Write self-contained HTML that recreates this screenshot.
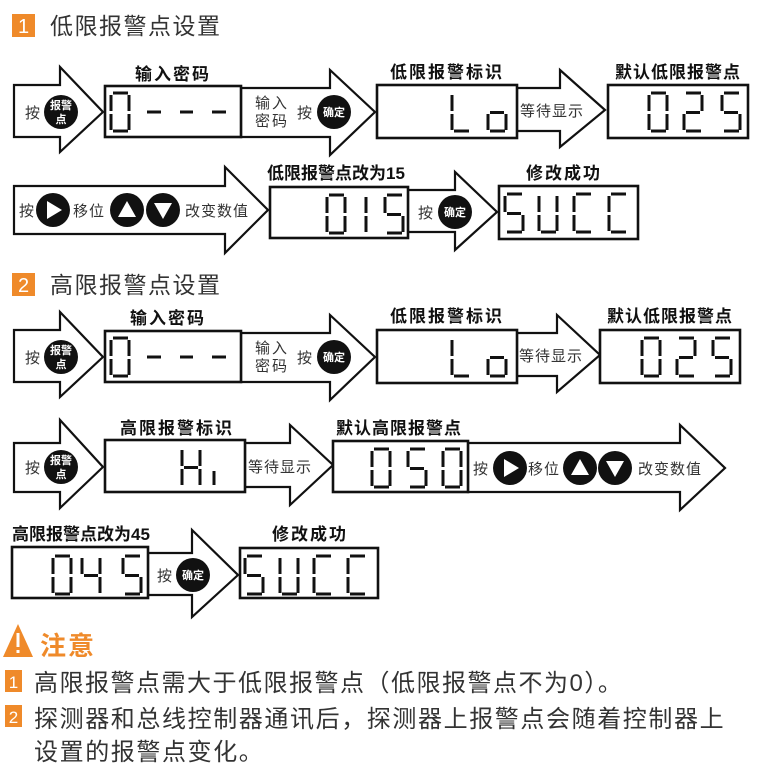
<!DOCTYPE html>
<html><head><meta charset="utf-8"><style>
html,body{margin:0;padding:0;background:#fff;}
svg{display:block;}
.f{font-family:"Liberation Sans","Noto Sans CJK SC",sans-serif;}
.lb{font-size:17px;font-weight:bold;fill:#111;}
.t{font-size:15px;fill:#333;}
.ar{fill:#fff;stroke:#111;stroke-width:2.2;stroke-linejoin:miter;}
.bx{fill:#fff;stroke:#111;stroke-width:2.6;}
.d{fill:none;stroke:#111;stroke-width:3;}
.w{fill:#fff;font-weight:bold;font-size:11px;}
</style></head><body>
<svg width="764" height="769" viewBox="0 0 764 769" class="f">
<!-- Section 1 -->
<rect x="12" y="14" width="23" height="23" fill="#ef8a2a"/>
<text x="23.5" y="33" font-size="20" fill="#fff" text-anchor="middle">1</text>
<text x="50" y="34" font-size="23" fill="#333" letter-spacing="1.5">低限报警点设置</text>

<!-- row1 -->
<path class="ar" d="M14 85H60V67L103 112L60 152V137H14Z"/>
<path class="ar" d="M241 88H330V70L375 112L330 155V137H241Z"/>
<path class="ar" d="M517 88H560V70L605 110L560 147V131H517Z"/>
<rect class="bx" x="105" y="86" width="136" height="51"/>
<rect class="bx" x="377" y="85" width="140" height="53"/>
<rect class="bx" x="608" y="85" width="140" height="53"/>
<text class="lb" x="173" y="80" text-anchor="middle" letter-spacing="2">输入密码</text>
<text class="lb" x="447" y="78" text-anchor="middle" letter-spacing="2">低限报警标识</text>
<text class="lb" x="678" y="78" text-anchor="middle" letter-spacing="1">默认低限报警点</text>
<text class="t" x="25" y="118">按</text>
<circle cx="61" cy="112" r="17" fill="#111"/>
<text class="w" x="61" y="109" text-anchor="middle">报警</text>
<text class="w" x="61" y="123" text-anchor="middle">点</text>
<text class="t" x="255" y="108" letter-spacing="2">输入</text>
<text class="t" x="255" y="126" letter-spacing="2">密码</text>
<text class="t" x="297" y="118">按</text>
<circle cx="334" cy="112" r="17" fill="#111"/>
<text class="w" x="334" y="116" text-anchor="middle">确定</text>
<text class="t" x="520" y="116" letter-spacing="1">等待显示</text>
<g class="d">
<g transform="translate(111,93)"><path d="M2 0H17M18 2V18M18 21V37M2 38H17M0 21V37M0 2V18"/></g>
<path d="M147 112H161M180 112H193M212 112H226"/>
<g transform="translate(452,93)"><path d="M0 2V18M0 21V37M2 38H17"/></g>
<g transform="translate(488,93)"><path d="M2 19.5H16M18 21V37M2 38H17M0 21V37"/></g>
<g transform="translate(649,93)"><path d="M2 0H17M18 2V18M18 21V37M2 38H17M0 21V37M0 2V18"/></g>
<g transform="translate(684,93)"><path d="M2 0H17M18 2V18M2 19.5H16M0 21V37M2 38H17"/></g>
<g transform="translate(722,93)"><path d="M2 0H17M0 2V18M2 19.5H16M18 21V37M2 38H17"/></g>
</g>

<!-- row2 -->
<path class="ar" d="M14 186H225V167L268 210L225 253V234H14Z"/>
<path class="ar" d="M408 190H455V172L497 212L455 250V232H408Z"/>
<rect class="bx" x="270" y="187" width="138" height="51"/>
<rect class="bx" x="499" y="186" width="139" height="53"/>
<text class="lb" x="267" y="179">低限报警点改为15</text>
<text class="lb" x="564" y="179" text-anchor="middle" letter-spacing="2">修改成功</text>
<text class="t" x="19" y="216">按</text>
<circle cx="53" cy="210" r="17" fill="#111"/>
<path d="M47 201L62 210L47 219Z" fill="#fff"/>
<text class="t" x="73" y="216" letter-spacing="1">移位</text>
<circle cx="127" cy="210" r="17" fill="#111"/>
<path d="M118 217L127 201L136 217Z" fill="#fff"/>
<circle cx="163" cy="210" r="17" fill="#111"/>
<path d="M154 203L163 219L172 203Z" fill="#fff"/>
<text class="t" x="185" y="216" letter-spacing="1">改变数值</text>
<text class="t" x="418" y="218">按</text>
<circle cx="455" cy="212" r="17" fill="#111"/>
<text class="w" x="455" y="216" text-anchor="middle">确定</text>
<g class="d">
<g transform="translate(327,195)"><path d="M2 0H17M18 2V18M18 21V37M2 38H17M0 21V37M0 2V18"/></g>
<g transform="translate(348,195)"><path d="M18 2V18M18 21V37"/></g>
<g transform="translate(385,195)"><path d="M2 0H17M0 2V18M2 19.5H16M18 21V37M2 38H17"/></g>
<g transform="translate(505,194)"><path d="M2 0H17M0 2V18M2 19.5H16M18 21V37M2 38H17"/></g>
<g transform="translate(539,194)"><path d="M0 2V18M0 21V37M2 38H17M18 21V37M18 2V18"/></g>
<g transform="translate(574,194)"><path d="M2 0H17M0 2V18M0 21V37M2 38H17"/></g>
<g transform="translate(609,194)"><path d="M2 0H17M0 2V18M0 21V37M2 38H17"/></g>
</g>

<!-- Section 2 -->
<rect x="12" y="273" width="23" height="23" fill="#ef8a2a"/>
<text x="23.5" y="292" font-size="20" fill="#fff" text-anchor="middle">2</text>
<text x="50" y="293" font-size="23" fill="#333" letter-spacing="1.5">高限报警点设置</text>

<!-- row3 -->
<path class="ar" d="M14 330H60V312L103 357L60 397V382H14Z"/>
<path class="ar" d="M241 333H330V315L375 357L330 400V382H241Z"/>
<path class="ar" d="M517 333H557V315L600 355L557 392V376H517Z"/>
<rect class="bx" x="105" y="331" width="136" height="51"/>
<rect class="bx" x="377" y="330" width="140" height="53"/>
<rect class="bx" x="600" y="330" width="140" height="53"/>
<text class="lb" x="168" y="324" text-anchor="middle" letter-spacing="2">输入密码</text>
<text class="lb" x="447" y="322" text-anchor="middle" letter-spacing="2">低限报警标识</text>
<text class="lb" x="670" y="322" text-anchor="middle" letter-spacing="1">默认低限报警点</text>
<text class="t" x="25" y="363">按</text>
<circle cx="61" cy="357" r="17" fill="#111"/>
<text class="w" x="61" y="354" text-anchor="middle">报警</text>
<text class="w" x="61" y="368" text-anchor="middle">点</text>
<text class="t" x="255" y="353" letter-spacing="2">输入</text>
<text class="t" x="255" y="371" letter-spacing="2">密码</text>
<text class="t" x="297" y="363">按</text>
<circle cx="334" cy="357" r="17" fill="#111"/>
<text class="w" x="334" y="361" text-anchor="middle">确定</text>
<text class="t" x="519" y="361" letter-spacing="1">等待显示</text>
<g class="d">
<g transform="translate(111,338)"><path d="M2 0H17M18 2V18M18 21V37M2 38H17M0 21V37M0 2V18"/></g>
<path d="M147 357H161M180 357H193M212 357H226"/>
<g transform="translate(452,338)"><path d="M0 2V18M0 21V37M2 38H17"/></g>
<g transform="translate(488,338)"><path d="M2 19.5H16M18 21V37M2 38H17M0 21V37"/></g>
<g transform="translate(642,338)"><path d="M2 0H17M18 2V18M18 21V37M2 38H17M0 21V37M0 2V18"/></g>
<g transform="translate(677,338)"><path d="M2 0H17M18 2V18M2 19.5H16M0 21V37M2 38H17"/></g>
<g transform="translate(713,338)"><path d="M2 0H17M0 2V18M2 19.5H16M18 21V37M2 38H17"/></g>
</g>

<!-- row4 -->
<path class="ar" d="M14 443H60V420L103 467L60 508V492H14Z"/>
<path class="ar" d="M245 443H290V425L333 465L290 505V487H245Z"/>
<path class="ar" d="M468 443H680V425L725 468L680 510V492H468Z"/>
<rect class="bx" x="105" y="440" width="140" height="52"/>
<rect class="bx" x="333" y="441" width="135" height="51"/>
<text class="lb" x="177" y="434" text-anchor="middle" letter-spacing="2">高限报警标识</text>
<text class="lb" x="399" y="434" text-anchor="middle" letter-spacing="1">默认高限报警点</text>
<text class="t" x="25" y="473">按</text>
<circle cx="61" cy="467" r="17" fill="#111"/>
<text class="w" x="61" y="464" text-anchor="middle">报警</text>
<text class="w" x="61" y="478" text-anchor="middle">点</text>
<text class="t" x="248" y="472" letter-spacing="1">等待显示</text>
<text class="t" x="473" y="474">按</text>
<circle cx="510" cy="468" r="17" fill="#111"/>
<path d="M504 459L519 468L504 477Z" fill="#fff"/>
<text class="t" x="528" y="474" letter-spacing="1">移位</text>
<circle cx="580" cy="468" r="17" fill="#111"/>
<path d="M571 475L580 459L589 475Z" fill="#fff"/>
<circle cx="615" cy="468" r="17" fill="#111"/>
<path d="M606 461L615 477L624 461Z" fill="#fff"/>
<text class="t" x="638" y="474" letter-spacing="1">改变数值</text>
<g class="d">
<g transform="translate(182,448)"><path d="M0 2V18M0 21V37M18 2V18M18 21V37M2 19.5H16"/></g>
<path d="M214 471V485"/>
<g transform="translate(372,449)"><path d="M2 0H17M18 2V18M18 21V37M2 38H17M0 21V37M0 2V18"/></g>
<g transform="translate(408,449)"><path d="M2 0H17M0 2V18M2 19.5H16M18 21V37M2 38H17"/></g>
<g transform="translate(443,449)"><path d="M2 0H17M18 2V18M18 21V37M2 38H17M0 21V37M0 2V18"/></g>
</g>

<!-- row5 -->
<path class="ar" d="M148 553H192V530L238 575L192 617V595H148Z"/>
<rect class="bx" x="12" y="547" width="136" height="51"/>
<rect class="bx" x="240" y="548" width="138" height="50"/>
<text class="lb" x="12" y="540">高限报警点改为45</text>
<text class="lb" x="310" y="540" text-anchor="middle" letter-spacing="2">修改成功</text>
<text class="t" x="157" y="581">按</text>
<circle cx="193" cy="575" r="17" fill="#111"/>
<text class="w" x="193" y="579" text-anchor="middle">确定</text>
<g class="d">
<g transform="translate(53,556)"><path d="M2 0H17M18 2V18M18 21V37M2 38H17M0 21V37M0 2V18"/></g>
<g transform="translate(82,556)"><path d="M0 2V18M2 19.5H16M18 2V18M18 21V37"/></g>
<g transform="translate(123,556)"><path d="M2 0H17M0 2V18M2 19.5H16M18 21V37M2 38H17"/></g>
<g transform="translate(245,556)"><path d="M2 0H17M0 2V18M2 19.5H16M18 21V37M2 38H17"/></g>
<g transform="translate(280,556)"><path d="M0 2V18M0 21V37M2 38H17M18 21V37M18 2V18"/></g>
<g transform="translate(314,556)"><path d="M2 0H17M0 2V18M0 21V37M2 38H17"/></g>
<g transform="translate(348,556)"><path d="M2 0H17M0 2V18M0 21V37M2 38H17"/></g>
</g>

<!-- Notes -->
<path d="M18 624L33 657H3Z" fill="#ef8a2a"/>
<rect x="16.5" y="633" width="3" height="14" fill="#fff"/>
<rect x="16.5" y="650" width="3" height="3" fill="#fff"/>
<text x="40" y="655" font-size="26" font-weight="bold" fill="#ef8a2a" letter-spacing="2">注意</text>
<rect x="5" y="670" width="17" height="22" fill="#ef8a2a"/>
<text x="13.5" y="688" font-size="17" fill="#fff" text-anchor="middle">1</text>
<text x="34" y="691" font-size="24" fill="#333" letter-spacing="1.5">高限报警点需大于低限报警点（低限报警点不为0）。</text>
<rect x="5" y="705" width="17" height="22" fill="#ef8a2a"/>
<text x="13.5" y="723" font-size="17" fill="#fff" text-anchor="middle">2</text>
<text x="34" y="727" font-size="24" fill="#333" letter-spacing="1.6">探测器和总线控制器通讯后，探测器上报警点会随着控制器上</text>
<text x="34" y="760" font-size="24" fill="#333" letter-spacing="1.6">设置的报警点变化。</text>
</svg>
</body></html>
